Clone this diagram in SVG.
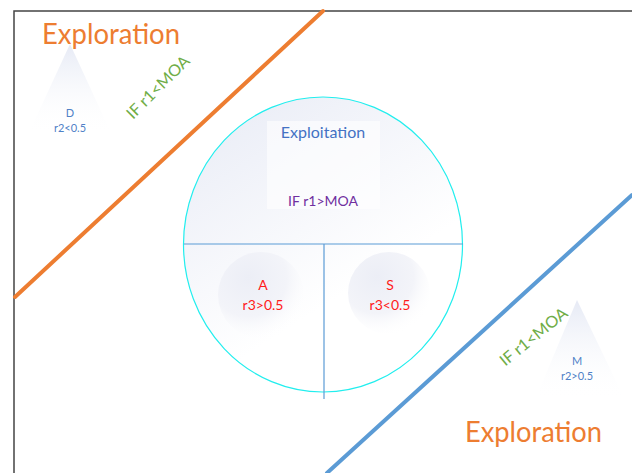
<svg xmlns="http://www.w3.org/2000/svg" width="632" height="473" viewBox="0 0 632 473">
  <style>
    text { font-family: Lato, "Liberation Sans", sans-serif; text-anchor: middle; }
    .title { fill: #ed7d31; font-size: 28px; text-anchor: start; }
    .cond { fill: #70ad47; font-size: 16px; }
    .small { fill: #4f81c7; font-size: 11px; }
    .red { fill: #ff1a1a; font-size: 14px; }
  </style>
  <defs>
    <linearGradient id="soft" x1="0.1" y1="0" x2="0.7" y2="1">
      <stop offset="0" stop-color="#e9ecf6"/>
      <stop offset="0.7" stop-color="#ffffff"/>
    </linearGradient>
    <linearGradient id="tri" x1="0" y1="0" x2="0" y2="1">
      <stop offset="0" stop-color="#e6eaf5"/>
      <stop offset="1" stop-color="#ffffff" stop-opacity="0"/>
    </linearGradient>
    <radialGradient id="ball" cx="0.35" cy="0.3" r="0.75">
      <stop offset="0" stop-color="#eceef6"/>
      <stop offset="0.6" stop-color="#f3f4f9"/>
      <stop offset="1" stop-color="#ffffff" stop-opacity="0"/>
    </radialGradient>
  </defs>

  <rect width="632" height="473" fill="#ffffff"/>

  <!-- frame -->
  <g id="frame" fill="none" stroke="#444" stroke-width="1.5">
    <path d="M14 473 V11 H632"/>
  </g>

  <!-- boundary lines -->
  <g id="connectors" stroke-width="4" stroke-linecap="round">
    <line x1="15" y1="297" x2="323" y2="11" stroke="#ed7d31"/>
    <line x1="327" y1="473" x2="632" y2="195" stroke="#5b9bd5"/>
  </g>

  <!-- exploration area (top) -->
  <g id="exploration-top">
    <text class="title" x="42" y="44" textLength="138" lengthAdjust="spacingAndGlyphs">Exploration</text>
    <polygon points="70,44 28,135 112,135" fill="url(#tri)"/>
    <text class="small" x="70" y="117">D</text>
    <text class="small" x="70" y="132">r2&lt;0.5</text>
    <text class="cond" transform="translate(162,91) rotate(-45)" textLength="82" lengthAdjust="spacingAndGlyphs">IF r1&lt;MOA</text>
  </g>

  <!-- exploitation area -->
  <g id="exploitation">
    <ellipse cx="323" cy="244.5" rx="139.5" ry="147.5" fill="url(#soft)" stroke="#22eeee" stroke-width="1.2"/>
    <rect x="267" y="121" width="113" height="88" fill="#ffffff" opacity="0.6"/>
    <text x="323" y="138" fill="#4472c4" font-size="16">Exploitation</text>
    <text x="323" y="206" fill="#7030a0" font-size="14">IF r1&gt;MOA</text>
    <line x1="184" y1="244" x2="463" y2="244" stroke="#5b9bd5" stroke-width="1.2"/>
    <line x1="324" y1="244" x2="324" y2="399" stroke="#5b9bd5" stroke-width="1.2"/>
  </g>

  <g id="attack">
    <circle cx="261" cy="295" r="43" fill="url(#ball)"/>
    <text class="red" x="263" y="290">A</text>
    <text class="red" x="263" y="310">r3&gt;0.5</text>
  </g>

  <g id="search">
    <circle cx="389" cy="293" r="41" fill="url(#ball)"/>
    <text class="red" x="390" y="290">S</text>
    <text class="red" x="390" y="310">r3&lt;0.5</text>
  </g>

  <!-- exploration area (bottom) -->
  <g id="exploration-bottom">
    <polygon points="577,300 535,400 625,400" fill="url(#tri)"/>
    <text class="small" x="577" y="365">M</text>
    <text class="small" x="577" y="380">r2&gt;0.5</text>
    <text class="cond" transform="translate(537,341) rotate(-39)" textLength="82" lengthAdjust="spacingAndGlyphs">IF r1&lt;MOA</text>
    <text class="title" x="465" y="442" textLength="137" lengthAdjust="spacingAndGlyphs">Exploration</text>
  </g>
</svg>
